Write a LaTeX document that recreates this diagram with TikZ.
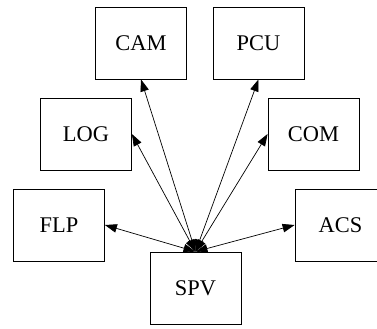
\documentclass[tikz,border=0pt]{standalone}
\usepackage{fontspec}
\setmainfont{Liberation Serif}
\usetikzlibrary{arrows.meta}
\begin{document}
\begin{tikzpicture}[x=1bp,y=-1bp,
	box/.style={draw,line width=0.8bp,minimum width=91bp,minimum height=72bp,inner sep=0pt,font=\fontsize{22.5}{26}\selectfont},
	link/.style={line width=0.7bp,{Triangle[length=12bp,width=8.5bp]}-{Triangle[length=12bp,width=8.5bp]}}]
	\useasboundingbox (0,0) rectangle (377,329);
	\node [box] (cam) at (141,43) {CAM};
	\node [box] (pcu) at (258.5,43) {PCU};
	\node [box] (log) at (86,134) {LOG};
	\node [box] (com) at (313.5,134) {COM};
	\node [box] (flp) at (59,225) {FLP};
	\node [box] (acs) at (340.5,225) {ACS};
	\node [box] (spv) at (195.5,288) {SPV};
	% all links leave the top of SPV
	\foreach \t/\a in {cam/south,pcu/south,log/east,com/west,flp/east,acs/west}
		\draw [link] (spv.north) -- (\t.\a);
\end{tikzpicture}
\end{document}
